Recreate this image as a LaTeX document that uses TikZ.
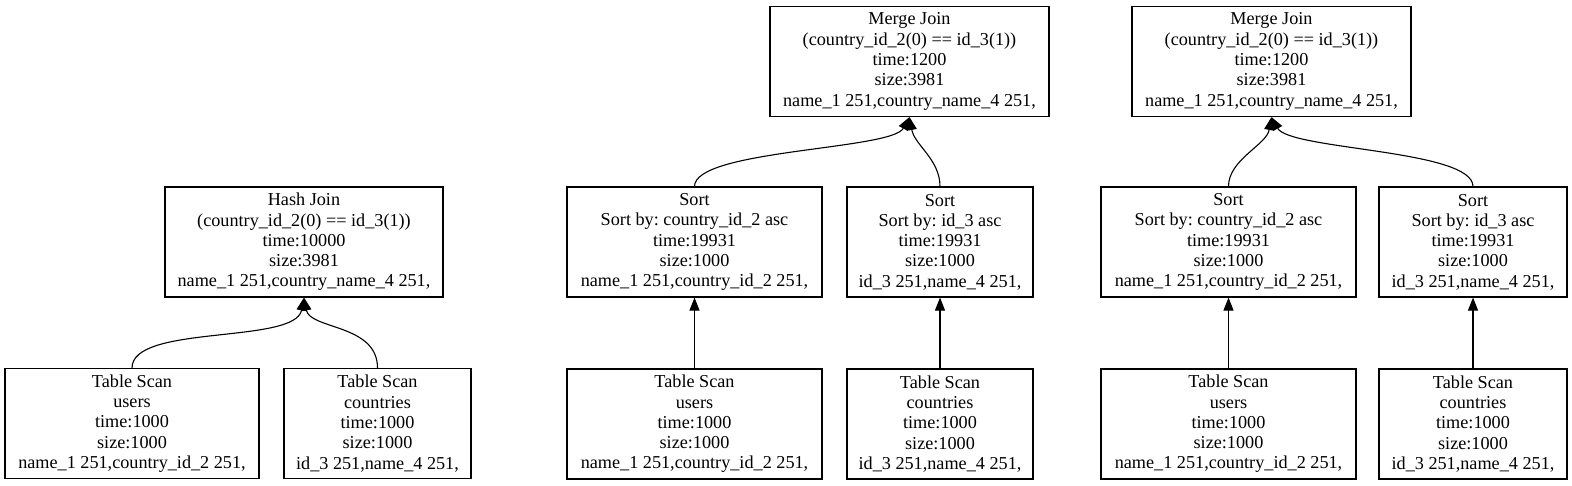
\documentclass[tikz,border=0pt]{standalone}
\usepackage{fontspec}
\setmainfont{Liberation Serif}
\usetikzlibrary{arrows.meta}
\tikzset{
  box/.style={draw, line width=1.1pt, inner sep=0pt, align=center,
    font=\fontsize{18.2}{20.3}\selectfont\frenchspacing},
  wide/.style={box, minimum width=278pt, minimum height=110pt},
  scanA/.style={box, minimum width=255pt, minimum height=110pt},
  scanB/.style={box, minimum width=187pt, minimum height=110pt},
  edge/.style={line width=1.1pt, -{Triangle[length=13pt,width=10pt]}}
}
\begin{document}
\frenchspacing
\begin{tikzpicture}[x=1pt,y=-1pt]
\useasboundingbox (0,0) rectangle (1572,485);
% left tree
\node[wide] (hj) at (304,242) {Hash Join\\(country\_id\_2(0) == id\_3(1))\\time:10000\\size:3981\\name\_1 251,country\_name\_4 251,};
\node[scanA, minimum width=254pt] (tsa) at (132,423.5) {Table Scan\\users\\time:1000\\size:1000\\name\_1 251,country\_id\_2 251,};
\node[scanB] (tsb) at (377.5,423.5) {Table Scan\\countries\\time:1000\\size:1000\\id\_3 251,name\_4 251,};
\draw[edge] (tsa.north) .. controls +(0,-44) and +(-9,47) .. (hj.south);
\draw[edge] (tsb.north) .. controls +(0,-44) and +(6,32) .. (hj.south);
% middle tree
\node[wide, minimum width=279pt] (mja) at (909.5,61.5) {Merge Join\\(country\_id\_2(0) == id\_3(1))\\time:1200\\size:3981\\name\_1 251,country\_name\_4 251,};
\node[scanA] (sa) at (694.5,242) {Sort\\Sort by: country\_id\_2 asc\\time:19931\\size:1000\\name\_1 251,country\_id\_2 251,};
\node[scanB, minimum width=186pt] (sb) at (940,242) {Sort\\Sort by: id\_3 asc\\time:19931\\size:1000\\id\_3 251,name\_4 251,};
\node[scanA] (tsc) at (694.5,424) {Table Scan\\users\\time:1000\\size:1000\\name\_1 251,country\_id\_2 251,};
\node[scanB, minimum width=186pt] (tsd) at (940,424) {Table Scan\\countries\\time:1000\\size:1000\\id\_3 251,name\_4 251,};
\draw[edge] (sa.north) .. controls +(0,-37) and +(-18,33) .. (mja.south);
\draw[edge] (sb.north) .. controls +(0,-27) and +(5,28) .. (mja.south);
\draw[edge] (tsc.north) -- (sa.south);
\draw[edge] (tsd.north) -- (sb.south);
% right tree
\node[wide, minimum width=279pt] (mjb) at (1271.5,61.5) {Merge Join\\(country\_id\_2(0) == id\_3(1))\\time:1200\\size:3981\\name\_1 251,country\_name\_4 251,};
\node[scanA] (sc) at (1228.5,242) {Sort\\Sort by: country\_id\_2 asc\\time:19931\\size:1000\\name\_1 251,country\_id\_2 251,};
\node[scanB, minimum width=188pt] (sd) at (1473,242) {Sort\\Sort by: id\_3 asc\\time:19931\\size:1000\\id\_3 251,name\_4 251,};
\node[scanA] (tse) at (1228.5,424) {Table Scan\\users\\time:1000\\size:1000\\name\_1 251,country\_id\_2 251,};
\node[scanB, minimum width=188pt] (tsf) at (1473,424) {Table Scan\\countries\\time:1000\\size:1000\\id\_3 251,name\_4 251,};
\draw[edge] (sc.north) .. controls +(0,-27) and +(-5,28) .. (mjb.south);
\draw[edge] (sd.north) .. controls +(0,-37) and +(18,33) .. (mjb.south);
\draw[edge] (tse.north) -- (sc.south);
\draw[edge] (tsf.north) -- (sd.south);
\end{tikzpicture}
\end{document}
